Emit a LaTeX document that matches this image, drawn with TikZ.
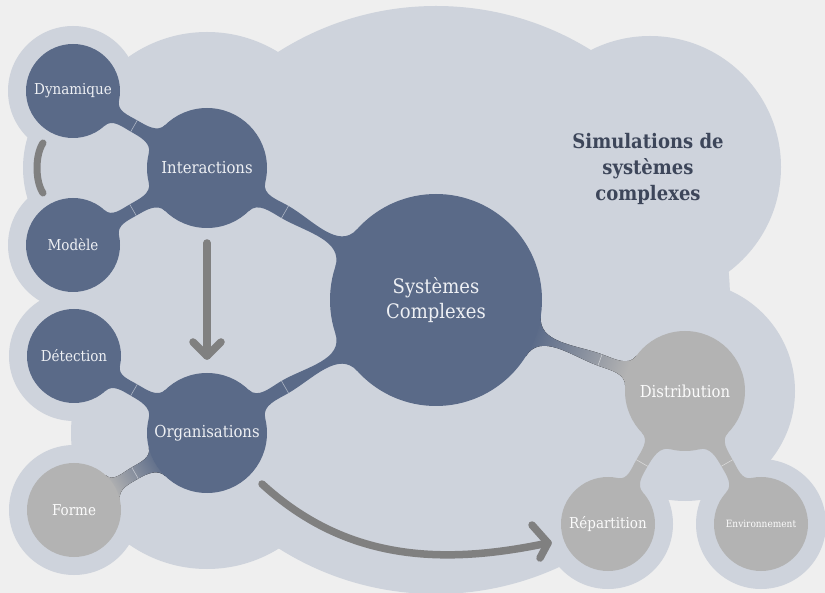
\documentclass[tikz,border=0pt]{standalone}
\usepackage{fontspec}
\setmainfont{DejaVu Serif}[FakeStretch=0.9]
\usetikzlibrary{calc}
\definecolor{bgcol}{HTML}{EFEFEF}
\definecolor{halocol}{HTML}{CED3DC}
\definecolor{darkcol}{HTML}{5A6A88}
\definecolor{graycol}{HTML}{B3B3B3}
\definecolor{arrowcol}{HTML}{808080}
\definecolor{titlecol}{HTML}{3D465A}
\definecolor{lighttext}{HTML}{EEF0F4}
\newcommand\bridgecalc[2]{%
  \path let \p1=(#1), \p2=(#2) in \pgfextra{\pgfmathsetmacro\bphi{atan2(\y2-\y1,\x2-\x1)}\xdef\bphiG{\bphi}};}
% #1 A, #2 rA, #3 B, #4 rB, #5 neck, #6 spread A, #7 spread B, #8 half width, #9 fill style
\newcommand\bridge[9]{%
  \bridgecalc{#1}{#3}%
  \pgfmathsetmacro\sa{\bphiG+#6}\pgfmathsetmacro\sb{\bphiG-#6}%
  \pgfmathsetmacro\sc{\bphiG+180-#7}\pgfmathsetmacro\sd{\bphiG+180+#7}%
  \pgfmathsetmacro\oa{\bphiG+#6-90}\pgfmathsetmacro\ib{\bphiG-#6+90}%
  \pgfmathsetmacro\ic{\bphiG-90-#7}\pgfmathsetmacro\od{\bphiG+90+#7}%
  \pgfmathsetmacro\pu{\bphiG+90}\pgfmathsetmacro\pd{\bphiG-90}%
  \pgfmathsetmacro\back{\bphiG+180}%
  \pgfmathsetmacro\shang{\bphiG-90}%
  \fill[#9] ($(#1)+(\sa:#2)$) to[out=\oa,in=\back] ($(#5)+(\pu:#8)$) to[out=\bphiG,in=\ic] ($(#3)+(\sc:#4)$) -- ($(#3)+(\sd:#4)$) to[out=\od,in=\bphiG] ($(#5)+(\pd:#8)$) to[out=\back,in=\ib] ($(#1)+(\sb:#2)$) -- cycle;
  \draw[seam] ($(#5)+(\pu:#8)$) -- ($(#5)+(\pd:#8)$);
}
\begin{document}
\begin{tikzpicture}[x=1pt,y=1pt,
  bubble/.style={circle, inner sep=0pt, align=center},
  darknode/.style={bubble, fill=darkcol, text=lighttext},
  graynode/.style={bubble, fill=graycol, text=white!95!graycol},
  smallnode/.style={minimum size=94pt, font=\fontsize{15}{18}\selectfont},
  midnode/.style={minimum size=120pt, font=\fontsize{16.5}{20}\selectfont},
  seam/.style={draw=white, draw opacity=0.5, line width=0.6pt},
  arr/.style={draw=arrowcol, line width=7.5pt, line cap=round, line join=round},
  darkfill/.style={fill=darkcol},
  grayfill/.style={fill=graycol}]
\fill[bgcol] (0,0) rectangle (825,-593);
\useasboundingbox (0,0) rectangle (825,-593);
% light blob
\fill[halocol] (436,-300) circle (294);
\fill[halocol] (650,-167) circle (131);
\fill[halocol] (207,-168) circle (136);
\fill[halocol] (207,-433) circle (136);
\fill[halocol] (128,-168) circle (105);
\fill[halocol] (150,-300) circle (50);
\fill[halocol] (685,-391) circle (110);
\fill[halocol] (73,-91) circle (65);
\fill[halocol] (73,-245) circle (65);
\fill[halocol] (74,-356) circle (65);
\fill[halocol] (74,-510) circle (65);
\fill[halocol] (608,-524) circle (65);
\fill[halocol] (761,-524) circle (65);
% node positions
\coordinate (cdyn) at (73,-91);
\coordinate (cint) at (207,-168);
\coordinate (cmod) at (73,-245);
\coordinate (cdet) at (74,-356);
\coordinate (corg) at (207,-433);
\coordinate (cfor) at (74,-510);
\coordinate (csys) at (436,-300);
\coordinate (cdis) at (685,-391);
\coordinate (crep) at (608,-524);
\coordinate (cenv) at (761,-524);
% necks
\coordinate (n1) at (134,-126);
\coordinate (n2) at (133,-210);
\coordinate (n3) at (285,-212);
\coordinate (n4) at (285,-387);
\coordinate (n5) at (134,-390);
\coordinate (n6) at (135,-473);
\coordinate (n7) at (600,-360);
\coordinate (n8) at (642,-463);
\coordinate (n9) at (727,-463);
% bridges
\bridge{cdyn}{47}{cint}{60}{n1}{18}{16}{6.5}{darkfill}
\bridge{cmod}{47}{cint}{60}{n2}{18}{16}{6.5}{darkfill}
\bridge{cint}{60}{csys}{106}{n3}{16}{12}{7}{darkfill}
\bridge{corg}{60}{csys}{106}{n4}{16}{12}{7}{darkfill}
\bridge{cdet}{47}{corg}{60}{n5}{18}{16}{6.5}{darkfill}
\bridge{corg}{60}{cfor}{47}{n6}{16}{18}{6.5}{top color=graycol, bottom color=darkcol, shading angle=\shang}
\bridge{csys}{106}{cdis}{60}{n7}{12}{16}{6}{top color=graycol, bottom color=darkcol, shading angle=\shang}
\bridge{cdis}{60}{crep}{47}{n8}{16}{18}{6.5}{grayfill}
\bridge{cdis}{60}{cenv}{47}{n9}{16}{18}{6.5}{grayfill}
% nodes
\node[darknode, smallnode] (dyn) at (cdyn) {Dynamique};
\node[darknode, midnode] (int) at (cint) {Interactions};
\node[darknode, smallnode] (mod) at (cmod) {Modèle};
\node[darknode, smallnode] (det) at (cdet) {Détection};
\node[darknode, midnode] (org) at (corg) {Organisations};
\node[graynode, smallnode] (for) at (cfor) {Forme};
\node[darknode, minimum size=212pt, font=\fontsize{20}{25}\selectfont] (sys) at (csys) {Systèmes\\Complexes};
\node[graynode, midnode] (dis) at (cdis) {Distribution};
\node[graynode, smallnode] (rep) at (crep) {Répartition};
\node[graynode, minimum size=94pt, font=\fontsize{10}{12}\selectfont] (env) at (cenv) {Environnement};
% title
\node[align=center, text=titlecol, font=\bfseries\fontsize{20}{26}\selectfont] (title) at (648,-169) {Simulations de\\systèmes\\complexes};
% arrows
\coordinate (va1) at (207,-243);
\coordinate (va2) at (207,-356);
\draw[arr] (va1) -- (va2);
\draw[arr] ($(va2)+(-14,14)$) -- (va2) -- ($(va2)+(14,14)$);
\coordinate (ca1) at (262,-484);
\coordinate (ca2) at (548,-543);
\draw[arr] (ca1) .. controls (345,-560) and (440,-566) .. (ca2);
\draw[arr] ($(ca2)+(-16,18)$) -- (ca2) -- ($(ca2)+(-8,-15)$);
\coordinate (pa1) at (43,-143);
\coordinate (pa2) at (43,-193);
\draw[arr, line width=7pt] (pa1) .. controls (35,-155) and (35,-181) .. (pa2);
\end{tikzpicture}
\end{document}
